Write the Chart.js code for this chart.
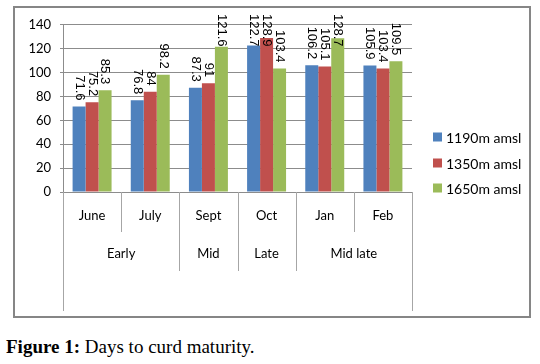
<!DOCTYPE html>
<html>
<head>
<meta charset="utf-8">
<script src="https://cdn.jsdelivr.net/npm/chart.js@4"></script>
<style>
  body { margin: 0; background: #fff; width: 540px; height: 364px; position: relative; overflow: hidden; }
  #box { position: absolute; left: 13px; top: 6px; width: 518px; height: 312px; box-sizing: border-box; border: 2px solid #868686; background: #fff; }
  #box canvas { position: absolute; left: 0; top: 0; }
  #caption { position: absolute; left: 6px; top: 336px; font-family: "Liberation Serif", serif; font-size: 19px; color: #000; white-space: nowrap; }
</style>
</head>
<body>
<div id="box"><canvas id="chart1" width="514" height="308"></canvas></div>
<div id="caption"><b>Figure 1:</b> Days to curd maturity.</div>
<script>
// months and their season groups
const months = ["June", "July", "Sept", "Oct", "Jan", "Feb"];
const groups = ["Early", "Mid", "Late", "Mid late"];
const groupSpan = [2, 1, 1, 2];

// days to curd maturity at each altitude
const alt1190 = [71.6, 76.8, 87.3, 122.7, 106.2, 105.9];
const alt1350 = [75.2, 84, 91, 128.9, 105.1, 103.4];
const alt1650 = [85.3, 98.2, 121.6, 103.4, 128.7, 109.5];

const seriesNames = ["1190m amsl", "1350m amsl", "1650m amsl"];
const seriesColors = ["#4F81BD", "#C0504D", "#9BBB59"];

const yTicks = [0, 20, 40, 60, 80, 100, 120, 140];

const uiFont = "Lato, 'Open Sans', sans-serif";

// draws value labels, the two-level axis and the legend
const extras = {
  id: "extras",
  afterDatasetsDraw(chart) {
    const ctx = chart.ctx;
    const area = chart.chartArea;

    // rotated value labels
    ctx.save();
    ctx.fillStyle = "#000";
    ctx.font = "13px 'Liberation Sans', Arial, sans-serif";
    ctx.textAlign = "left";
    ctx.textBaseline = "middle";
    chart.data.datasets.forEach((ds, di) => {
      const meta = chart.getDatasetMeta(di);
      meta.data.forEach((bar, i) => {
        const txt = String(ds.data[i]);
        const w = ctx.measureText(txt).width;
        let start = bar.y - 6 - w;
        if (start < 6) start = 6;
        ctx.save();
        ctx.translate(bar.x, start);
        ctx.rotate(Math.PI / 2);
        ctx.fillText(txt, 0, 0);
        ctx.restore();
      });
    });
    ctx.restore();

    // category separators
    const n = months.length;
    const cw = (area.right - area.left) / n;
    const bounds = [0];
    let acc = 0;
    groupSpan.forEach(s => { acc += s; bounds.push(acc); });
    ctx.save();
    ctx.strokeStyle = "#a6a6a6";
    ctx.lineWidth = 1;
    for (let i = 0; i <= n; i++) {
      const x = Math.round(area.left + i * cw) + 0.5;
      let yEnd = area.bottom + 40;
      if (i === 0 || i === n) yEnd = area.bottom + 119;
      else if (bounds.includes(i)) yEnd = area.bottom + 79;
      ctx.beginPath();
      ctx.moveTo(x, area.bottom);
      ctx.lineTo(x, yEnd);
      ctx.stroke();
    }

    // group labels
    ctx.fillStyle = "#000";
    ctx.font = "13px " + uiFont;
    ctx.textAlign = "center";
    ctx.textBaseline = "middle";
    groups.forEach((g, gi) => {
      const x = area.left + (bounds[gi] + bounds[gi + 1]) / 2 * cw;
      ctx.fillText(g, x, area.bottom + 62);
    });

    // legend
    const legY = [129, 155, 180];
    ctx.textAlign = "left";
    ctx.font = "14px " + uiFont;
    chart.data.datasets.forEach((ds, di) => {
      ctx.fillStyle = ds.backgroundColor;
      ctx.fillRect(418, legY[di] - 4.5, 9, 9);
      ctx.fillStyle = "#000";
      ctx.fillText(ds.label, 431, legY[di] + 1);
    });
    ctx.restore();
  }
};

new Chart(document.getElementById("chart1").getContext("2d"), {
  type: "bar",
  data: {
    labels: months,
    datasets: [
      { label: seriesNames[0], data: alt1190, backgroundColor: seriesColors[0] },
      { label: seriesNames[1], data: alt1350, backgroundColor: seriesColors[1] },
      { label: seriesNames[2], data: alt1650, backgroundColor: seriesColors[2] }
    ]
  },
  options: {
    responsive: false,
    animation: false,
    categoryPercentage: 0.67,
    barPercentage: 1,
    layout: { padding: { top: 15, right: 117, bottom: 0, left: 0 } },
    plugins: {
      legend: { display: false },
      tooltip: { enabled: false }
    },
    scales: {
      x: {
        grid: { display: false, drawTicks: false },
        border: { display: false },
        ticks: { color: "#000", font: { family: uiFont, size: 13 }, padding: 16, maxRotation: 0 },
        afterFit(scale) { scale.height = 124; }
      },
      y: {
        min: 0,
        max: 140,
        afterBuildTicks(scale) { scale.ticks = yTicks.map(v => ({ value: v })); },
        grid: { color: "#8c8c8c", tickLength: 3 },
        border: { color: "#8c8c8c" },
        ticks: { color: "#000", font: { family: uiFont, size: 13 }, padding: 9 },
        afterFit(scale) { scale.width = 48; }
      }
    }
  },
  plugins: [extras]
});
</script>
</body>
</html>
